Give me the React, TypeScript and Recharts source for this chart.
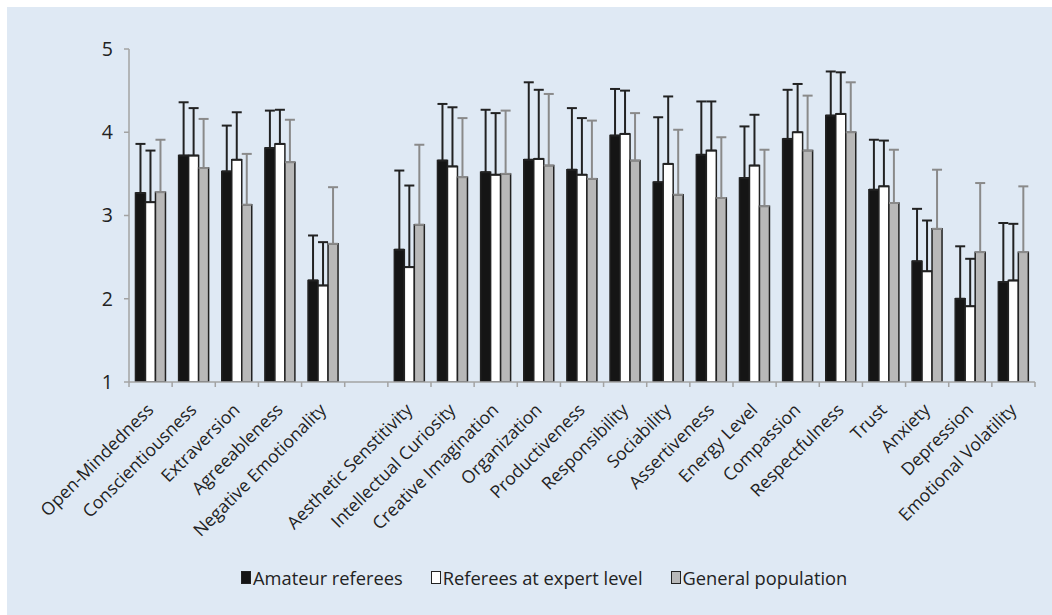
import React from 'react';
import { BarChart, Bar, XAxis, YAxis, ErrorBar } from 'recharts';

// facet names as printed (incl. the typo in the original figure); '' is the spacer column
const categories = [
  'Open-Mindedness', 'Conscientiousness', 'Extraversion', 'Agreeableness', 'Negative Emotionality',
  '',
  'Aesthetic Senstitivity', 'Intellectual Curiosity', 'Creative Imagination', 'Organization',
  'Productiveness', 'Responsibility', 'Sociability', 'Assertiveness', 'Energy Level', 'Compassion',
  'Respectfulness', 'Trust', 'Anxiety', 'Depression', 'Emotional Volatility',
];

const amateurMean = [3.27, 3.72, 3.53, 3.81, 2.22, null, 2.59, 3.66, 3.52, 3.67, 3.55, 3.96, 3.40, 3.73, 3.45, 3.92, 4.20, 3.31, 2.45, 2.00, 2.20];
const amateurSd = [0.59, 0.64, 0.55, 0.45, 0.54, null, 0.95, 0.68, 0.75, 0.93, 0.74, 0.56, 0.78, 0.64, 0.62, 0.59, 0.53, 0.60, 0.63, 0.63, 0.71];

const expertMean = [3.16, 3.72, 3.67, 3.86, 2.16, null, 2.38, 3.59, 3.49, 3.68, 3.49, 3.98, 3.62, 3.78, 3.60, 4.00, 4.22, 3.35, 2.33, 1.91, 2.22];
const expertSd = [0.62, 0.57, 0.57, 0.41, 0.52, null, 0.98, 0.71, 0.74, 0.83, 0.68, 0.52, 0.81, 0.59, 0.61, 0.58, 0.50, 0.55, 0.61, 0.57, 0.68];

const generalMean = [3.28, 3.57, 3.13, 3.64, 2.66, null, 2.89, 3.46, 3.50, 3.60, 3.44, 3.66, 3.25, 3.21, 3.11, 3.78, 4.00, 3.15, 2.84, 2.56, 2.56];
const generalSd = [0.63, 0.59, 0.61, 0.51, 0.68, null, 0.96, 0.71, 0.76, 0.86, 0.70, 0.57, 0.78, 0.73, 0.68, 0.66, 0.60, 0.64, 0.71, 0.83, 0.79];

const yTicks = [1, 2, 3, 4, 5];

const data = categories.map((name, i) => ({
  name,
  amateur: amateurMean[i],
  amateurErr: amateurSd[i] == null ? null : [0, amateurSd[i]],
  expert: expertMean[i],
  expertErr: expertSd[i] == null ? null : [0, expertSd[i]],
  general: generalMean[i],
  generalErr: generalSd[i] == null ? null : [0, generalSd[i]],
}));

const W = 1045;
const H = 608;
const margin = { top: 42, right: 17, left: 82, bottom: 33 };
const Y_AXIS_W = 40;
const plotW = W - margin.left - margin.right - Y_AXIS_W;
const band = plotW / categories.length;
const FONT = '"Open Sans", "Noto Sans", sans-serif';
const AXIS = '#a3a3a3';
const INK = '#222';

// tick marks sit on the category boundaries, labels are rotated under the centre
const XTick = ({ x, y, payload, index }: any) => {
  const lx = x + 4;
  const ly = y + 29;
  return (
    <g>
      <line x1={x - band / 2} y1={y} x2={x - band / 2} y2={y + 5} stroke={AXIS} strokeWidth={1.5} />
      {index === categories.length - 1 && (
        <line x1={x + band / 2} y1={y} x2={x + band / 2} y2={y + 5} stroke={AXIS} strokeWidth={1.5} />
      )}
      <text
        x={lx}
        y={ly}
        textAnchor="end"
        transform={`rotate(-45, ${lx}, ${ly})`}
        fill={INK}
        fontSize={17.6}
        fontFamily={FONT}
      >
        {payload.value}
      </text>
    </g>
  );
};

const legendItems = [
  { label: 'Amateur referees', fill: '#151515' },
  { label: 'Referees at expert level', fill: '#ffffff' },
  { label: 'General population', fill: '#b8b8b8' },
];

export default function App() {
  return (
    <div style={{ position: 'absolute', left: 7, top: 7, width: W, height: H, background: '#dfe9f4' }}>
      <BarChart
        width={W}
        height={H}
        data={data}
        margin={margin}
        barCategoryGap="15%"
        barGap={0}
      >
        <YAxis
          width={Y_AXIS_W}
          domain={[1, 5]}
          ticks={yTicks}
          interval={0}
          allowDataOverflow
          stroke={AXIS}
          strokeWidth={1.5}
          tickSize={5}
          tickMargin={11}
          tick={{ fill: INK, fontSize: 19.5, fontFamily: FONT }}
        />
        <XAxis
          dataKey="name"
          height={200}
          interval={0}
          stroke={AXIS}
          strokeWidth={1.5}
          tickLine={false}
          tickSize={0}
          tickMargin={0}
          tick={<XTick />}
        />
        <Bar dataKey="amateur" fill="#151515" stroke={INK} strokeWidth={1.5} isAnimationActive={false}>
          <ErrorBar dataKey="amateurErr" width={5} stroke={INK} strokeWidth={2} isAnimationActive={false} />
        </Bar>
        <Bar dataKey="expert" fill="#ffffff" stroke={INK} strokeWidth={1.5} isAnimationActive={false}>
          <ErrorBar dataKey="expertErr" width={5} stroke={INK} strokeWidth={2} isAnimationActive={false} />
        </Bar>
        <Bar dataKey="general" fill="#b8b8b8" stroke={INK} strokeWidth={1.5} isAnimationActive={false}>
          <ErrorBar dataKey="generalErr" width={5} stroke="#8a8a8a" strokeWidth={2} isAnimationActive={false} />
        </Bar>
      </BarChart>
      <div
        style={{
          position: 'absolute',
          left: 234,
          top: 558,
          display: 'flex',
          alignItems: 'center',
          fontFamily: FONT,
          fontSize: 18.3,
          color: INK,
          whiteSpace: 'nowrap',
        }}
      >
        {legendItems.map((it) => (
          <div key={it.label} style={{ display: 'flex', alignItems: 'center', marginRight: 28 }}>
            <span
              style={{
                display: 'inline-block',
                width: 8,
                height: 11,
                background: it.fill,
                border: `1.5px solid ${INK}`,
                marginRight: 2,
              }}
            />
            <span>{it.label}</span>
          </div>
        ))}
      </div>
    </div>
  );
}
